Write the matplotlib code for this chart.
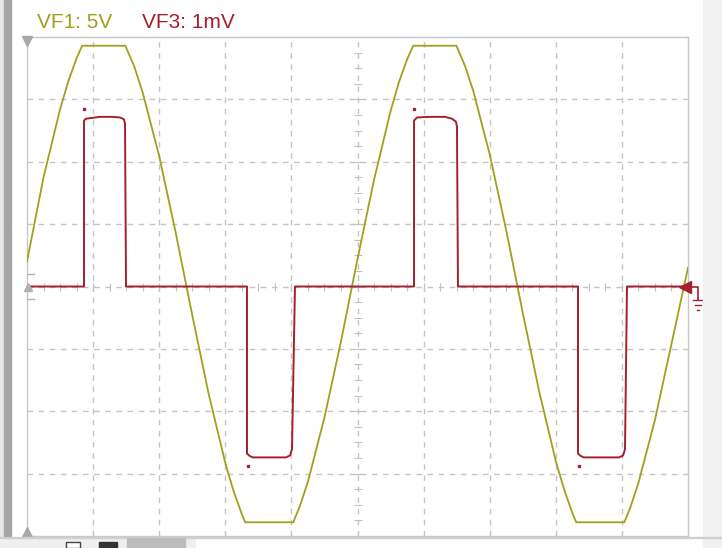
import numpy as np
import matplotlib
matplotlib.use("Agg")
import matplotlib.pyplot as plt
from matplotlib.patches import Rectangle

# screen is 10 x 8 divisions, values in divisions
vf1_x = [0.0, 0.25, 0.5, 0.625, 0.75, 0.834, 1.488, 1.5, 1.625, 1.75, 2.0, 2.25,
         2.5, 2.75, 3.0, 3.125, 3.25, 3.30, 4.028, 4.125, 4.25, 4.5, 4.75, 5.0,
         5.25, 5.5, 5.625, 5.75, 5.842, 6.496, 6.625, 6.75, 7.0, 7.25, 7.5, 7.75,
         8.0, 8.125, 8.25, 8.309, 9.036, 9.125, 9.25, 9.5, 9.75, 10.0]
vf1_y = [0.40, 1.75, 2.84, 3.29, 3.66, 3.86, 3.86, 3.83, 3.52, 3.11, 2.09, 0.86,
         -0.46, -1.73, -2.83, -3.28, -3.65, -3.78, -3.78, -3.53, -3.13, -2.10, -0.88, 0.44,
         1.71, 2.81, 3.27, 3.64, 3.86, 3.86, 3.54, 3.14, 2.12, 0.90, -0.42, -1.69,
         -2.80, -3.25, -3.63, -3.78, -3.78, -3.55, -3.15, -2.14, -0.92, 0.30]

vf3_x = [0.0, 0.862, 0.862, 0.892, 1.104, 1.286, 1.407, 1.467, 1.483, 1.498,
         3.328, 3.328, 3.374, 3.419, 3.918, 3.979, 4.009, 4.054,
         5.855, 5.855, 5.900, 6.097, 6.324, 6.430, 6.490, 6.505, 6.520,
         8.336, 8.336, 8.381, 8.427, 8.956, 9.017, 9.047, 9.077, 10.0]
vf3_y = [0.0, 0.0, 2.66, 2.69, 2.72, 2.72, 2.71, 2.68, 2.61, 0.0,
         0.0, -2.68, -2.72, -2.74, -2.74, -2.71, -2.61, 0.0,
         0.0, 2.66, 2.71, 2.72, 2.72, 2.69, 2.64, 2.56, 0.0,
         0.0, -2.68, -2.72, -2.74, -2.74, -2.71, -2.61, 0.0, 0.0]

# stray sample dots
dot_x = [0.862, 3.343, 5.855, 8.351]
dot_y = [2.85, -2.88, 2.84, -2.88]

labels = ["VF1: 5V", "VF3: 1mV"]

yellow = "#a0a01f"
red = "#a3202c"
gridc = "#c4c4c4"

W, H = 722, 548
fig = plt.figure(figsize=(W / 100, H / 100), dpi=100)
fig.patch.set_facecolor("white")

# window chrome
fig.patches.append(Rectangle((0, 10 / H), 4 / W, 1, transform=fig.transFigure,
                             color="#e6e6e6", zorder=0))
fig.patches.append(Rectangle((4 / W, 10 / H), 7 / W, 1, transform=fig.transFigure,
                             color="#a4a4a4", zorder=0))
fig.patches.append(Rectangle((703 / W, 0), 19 / W, 1, transform=fig.transFigure,
                             color="#f0f0f0", zorder=0))
fig.patches.append(Rectangle((0, 0), 195 / W, 10 / H, transform=fig.transFigure,
                             color="#efefef", zorder=0))
fig.patches.append(Rectangle((0, 10 / H), 722 / W, 1 / H, transform=fig.transFigure,
                             color="#cfcfcf", zorder=1))
fig.patches.append(Rectangle((66 / W, 0), 14 / W, 6 / H, transform=fig.transFigure,
                             facecolor="white", edgecolor="#444444", lw=1, zorder=1))
fig.patches.append(Rectangle((99 / W, 0), 18 / W, 6 / H, transform=fig.transFigure,
                             color="#333333", zorder=1))
fig.patches.append(Rectangle((127 / W, 0), 58 / W, 10 / H, transform=fig.transFigure,
                             color="#bcbcbc", zorder=1))

ax = fig.add_axes([27 / W, 1 - 536 / H, 661 / W, 499 / H])
ax.set_xlim(0, 10)
ax.set_ylim(-4, 4)
for s in ax.spines.values():
    s.set_color("#c8c8c8")
    s.set_linewidth(1)
ax.set_xticks([])
ax.set_yticks([])

for gx in range(1, 10):
    ax.axvline(gx, color=gridc, lw=1, ls=(0, (4, 4)), zorder=1)
for gy in range(-3, 4):
    ax.axhline(gy, color=gridc, lw=1, ls=(0, (4, 4)), zorder=1)

# minor ticks on centre axes
tx = np.arange(0.25, 10, 0.25)
ty = np.arange(-3.75, 4, 0.25)
ax.plot(tx, np.zeros_like(tx), ls="none", marker="|", ms=6, mew=0.8,
        color="#c0c0c0", zorder=1)
ax.plot(np.full_like(ty, 5.0), ty, ls="none", marker="_", ms=6, mew=0.8,
        color="#c0c0c0", zorder=1)

ax.plot(vf1_x, vf1_y, color=yellow, lw=1.3, zorder=3)
ax.plot(vf3_x, vf3_y, color=red, lw=1.4, zorder=4)
ax.plot(dot_x, dot_y, ls="none", marker="s", ms=1.4, color=red, zorder=4)

# trigger / ground markers
ax.plot([0], [3.93], marker="v", ms=7, color="#a8a8a8", clip_on=False, zorder=5)
ax.plot([0], [-3.93], marker="^", ms=7, color="#a8a8a8", clip_on=False, zorder=5)
ax.plot([0.02], [0.0], marker="^", ms=6, color="#b0b0b0", clip_on=False, zorder=5)
ax.plot([-0.0, 0.1], [0.2, 0.2], color="#b0b0b0", lw=1, clip_on=False, zorder=5)
ax.plot([-0.0, 0.1], [-0.2, -0.2], color="#b0b0b0", lw=1, clip_on=False, zorder=5)
ax.plot([9.95], [0.0], marker="<", ms=8, color=red, clip_on=False, zorder=6)
ax.plot([9.95, 10.15, 10.15], [0.0, 0.0, -0.22], color=red, lw=1.2,
        clip_on=False, zorder=6)
ax.plot([10.07, 10.23], [-0.22, -0.22], color=red, lw=1, clip_on=False, zorder=6)
ax.plot([10.1, 10.2], [-0.3, -0.3], color=red, lw=1, clip_on=False, zorder=6)
ax.plot([10.13, 10.17], [-0.38, -0.38], color=red, lw=1, clip_on=False, zorder=6)

fig.text(37 / W, 1 - 23 / H, labels[0], color=yellow, fontsize=15,
         family="Liberation Sans", va="center", ha="left")
fig.text(142 / W, 1 - 23 / H, labels[1], color=red, fontsize=15,
         family="Liberation Sans", va="center", ha="left")

fig.savefig("out.png", dpi=100)
